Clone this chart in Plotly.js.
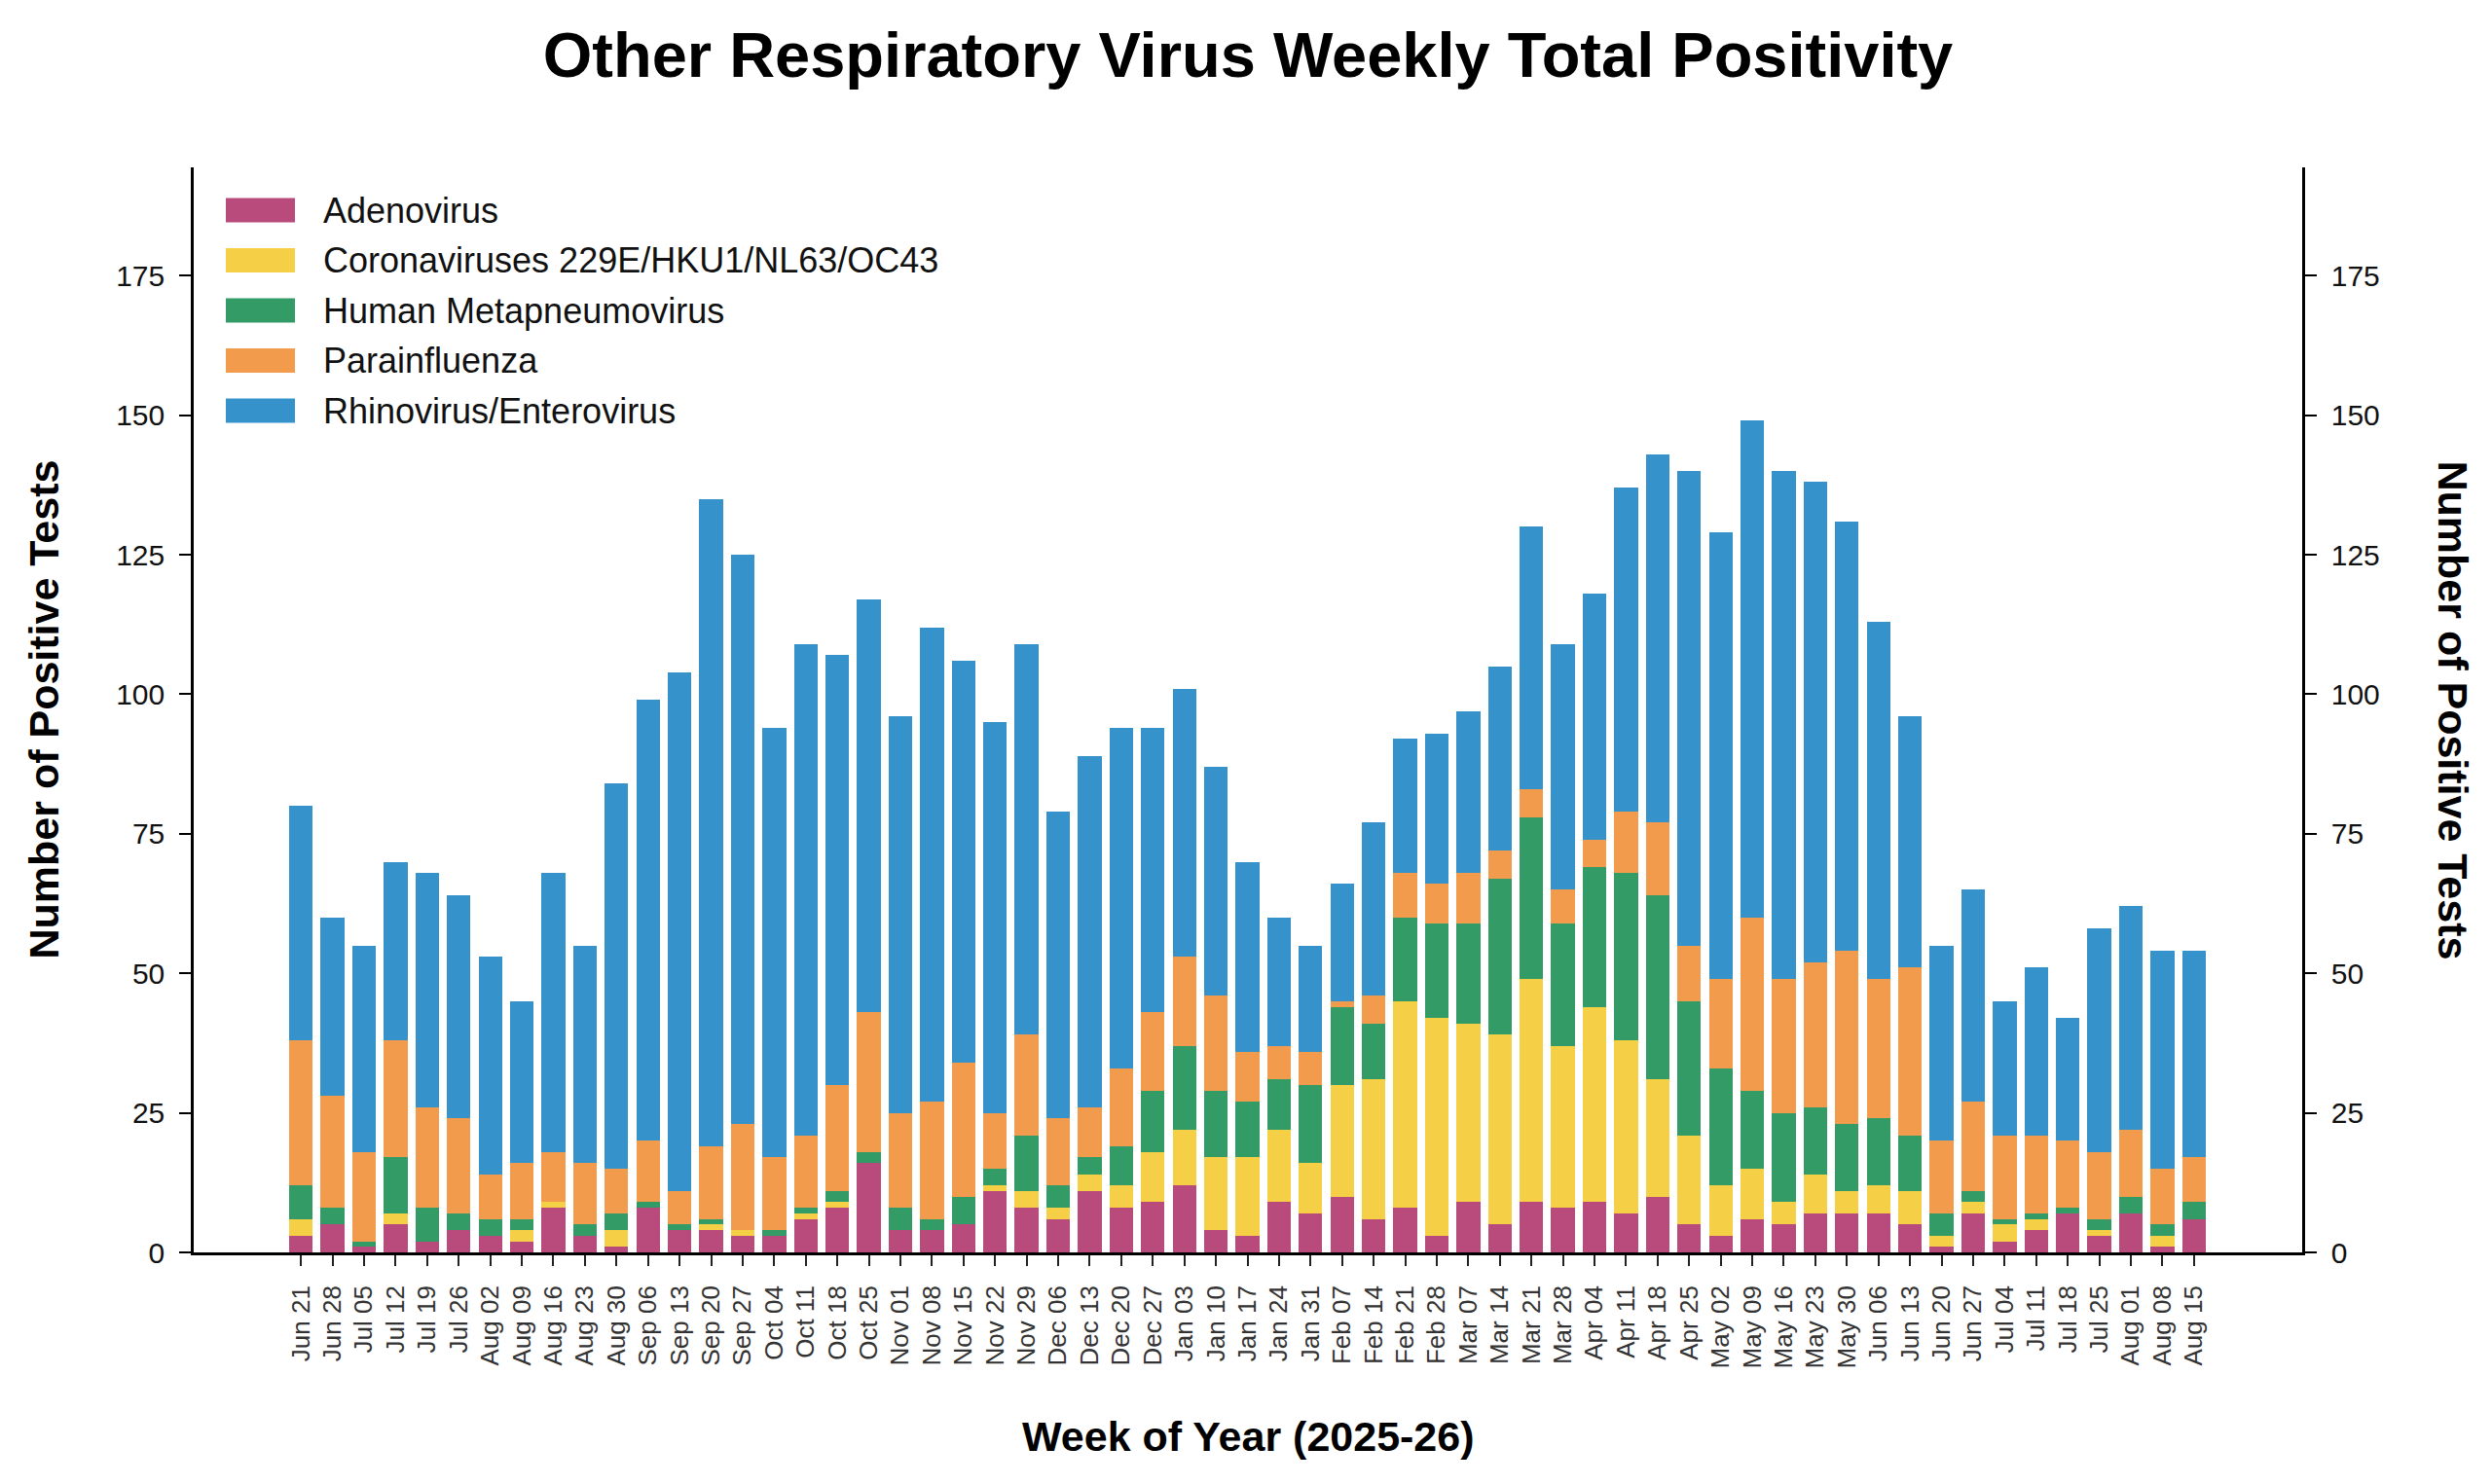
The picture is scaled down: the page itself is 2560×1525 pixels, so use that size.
<!DOCTYPE html>
<html>
<head>
<meta charset="utf-8">
<script src="https://cdn.plot.ly/plotly-3.0.1.min.js"></script>
<style>
  html, body { margin: 0; padding: 0; background: #ffffff; }
  #chart { width: 2560px; height: 1525px; }
</style>
</head>
<body>
<div id="chart"></div>
<script>
// ------------------------------------------------------------
// Other respiratory virus weekly positives (stacked bars)
// ------------------------------------------------------------

const weeks = [
  'Jun 21', 'Jun 28', 'Jul 05', 'Jul 12', 'Jul 19', 'Jul 26', 'Aug 02', 'Aug 09',
  'Aug 16', 'Aug 23', 'Aug 30', 'Sep 06', 'Sep 13', 'Sep 20', 'Sep 27', 'Oct 04',
  'Oct 11', 'Oct 18', 'Oct 25', 'Nov 01', 'Nov 08', 'Nov 15', 'Nov 22', 'Nov 29',
  'Dec 06', 'Dec 13', 'Dec 20', 'Dec 27', 'Jan 03', 'Jan 10', 'Jan 17', 'Jan 24',
  'Jan 31', 'Feb 07', 'Feb 14', 'Feb 21', 'Feb 28', 'Mar 07', 'Mar 14', 'Mar 21',
  'Mar 28', 'Apr 04', 'Apr 11', 'Apr 18', 'Apr 25', 'May 02', 'May 09', 'May 16',
  'May 23', 'May 30', 'Jun 06', 'Jun 13', 'Jun 20', 'Jun 27', 'Jul 04', 'Jul 11',
  'Jul 18', 'Jul 25', 'Aug 01', 'Aug 08', 'Aug 15'
];

const adenovirus = [
  3, 5, 1, 5, 2, 4, 3, 2, 8, 3, 1, 8, 4, 4, 3, 3, 6, 8, 16, 4, 4, 5, 11, 8,
  6, 11, 8, 9, 12, 4, 3, 9, 7, 10, 6, 8, 3, 9, 5, 9, 8, 9, 7, 10, 5, 3, 6, 5,
  7, 7, 7, 5, 1, 7, 2, 4, 7, 3, 7, 1, 6
];
const coronavirus = [
  3, 0, 0, 2, 0, 0, 0, 2, 1, 0, 3, 0, 0, 1, 1, 0, 1, 1, 0, 0, 0, 0, 1, 3,
  2, 3, 4, 9, 10, 13, 14, 13, 9, 20, 25, 37, 39, 32, 34, 40, 29, 35, 31, 21, 16, 9, 9, 4,
  7, 4, 5, 6, 2, 2, 3, 2, 0, 1, 0, 2, 0
];
const metapneumovirus = [
  6, 3, 1, 10, 6, 3, 3, 2, 0, 2, 3, 1, 1, 1, 0, 1, 1, 2, 2, 4, 2, 5, 3, 10,
  4, 3, 7, 11, 15, 12, 10, 9, 14, 14, 10, 15, 17, 18, 28, 29, 22, 25, 30, 33, 24, 21, 14, 16,
  12, 12, 12, 10, 4, 2, 1, 1, 1, 2, 3, 2, 3
];
const parainfluenza = [
  26, 20, 16, 21, 18, 17, 8, 10, 9, 11, 8, 11, 6, 13, 19, 13, 13, 19, 25, 17, 21, 24, 10, 18,
  12, 9, 14, 14, 16, 17, 9, 6, 6, 1, 5, 8, 7, 9, 5, 5, 6, 5, 11, 13, 10, 16, 31, 24,
  26, 31, 25, 30, 13, 16, 15, 14, 12, 12, 12, 10, 8
];
const rhinovirus = [
  42, 32, 37, 32, 42, 40, 39, 29, 50, 39, 69, 79, 93, 116, 102, 77, 88, 77, 74, 71, 85, 72, 70, 70,
  55, 63, 61, 51, 48, 41, 34, 23, 19, 21, 31, 24, 27, 29, 33, 47, 44, 44, 58, 66, 85, 80, 89, 91,
  86, 77, 64, 45, 35, 38, 24, 30, 22, 40, 40, 39, 37
];

const seriesNames = [
  'Adenovirus',
  'Coronaviruses 229E/HKU1/NL63/OC43',
  'Human Metapneumovirus',
  'Parainfluenza',
  'Rhinovirus/Enterovirus'
];
const seriesValues = [adenovirus, coronavirus, metapneumovirus, parainfluenza, rhinovirus];
const seriesColors = ['#b84b7b', '#f5cf45', '#339b66', '#f39b4d', '#3592cb'];

const yTicks = [0, 25, 50, 75, 100, 125, 150, 175];

// ---- geometry (pixels on the 2560x1525 canvas) ----
const W = 2560, H = 1525;
const PLOT = { left: 199, right: 2365, top: 172, bottom: 1287 };
const FONT = 'Liberation Sans, Arial, Helvetica, sans-serif';
const Y_MAX = 194.4;

function px2x(px) { return (px - PLOT.left) / (PLOT.right - PLOT.left); }
function px2y(py) { return (PLOT.bottom - py) / (PLOT.bottom - PLOT.top); }

const traces = seriesNames.map((name, i) => ({
  type: 'bar',
  x: weeks,
  y: seriesValues[i],
  name: name,
  marker: { color: seriesColors[i], line: { width: 0 } },
  hovertemplate: '%{x}: %{y}<extra>' + name + '</extra>'
}));

// custom legend: wide swatches like the original
const shapes = [];
const annotations = [];
const legendRows = [216, 267.5, 319, 370.5, 422];
seriesNames.forEach((name, i) => {
  const cy = legendRows[i];
  shapes.push({
    type: 'rect', xref: 'paper', yref: 'paper',
    x0: px2x(232), x1: px2x(303),
    y0: px2y(cy + 12.5), y1: px2y(cy - 12.5),
    fillcolor: seriesColors[i], line: { width: 0 }
  });
  annotations.push({
    xref: 'paper', yref: 'paper',
    x: px2x(330), y: px2y(cy),
    xanchor: 'left', yanchor: 'middle',
    text: name, showarrow: false,
    font: { family: FONT, size: 36, color: '#111111' }
  });
});

// axis titles
const axisTitleFont = { family: FONT, size: 43, color: '#000000', weight: 'bold' };
annotations.push({
  xref: 'paper', yref: 'paper', x: px2x(44), y: 0.5,
  text: 'Number of Positive Tests', textangle: -90, showarrow: false,
  xanchor: 'center', yanchor: 'middle', font: axisTitleFont
});
annotations.push({
  xref: 'paper', yref: 'paper', x: px2x(2520), y: 0.5,
  text: 'Number of Positive Tests', textangle: 90, showarrow: false,
  xanchor: 'center', yanchor: 'middle', font: axisTitleFont
});
annotations.push({
  xref: 'paper', yref: 'paper', x: 0.5, y: px2y(1476),
  text: 'Week of Year (2025-26)', showarrow: false,
  xanchor: 'center', yanchor: 'middle', font: axisTitleFont
});

const yAxisCommon = {
  range: [0, Y_MAX],
  tickmode: 'array',
  tickvals: yTicks,
  ticktext: yTicks.map(String),
  showgrid: false,
  zeroline: false,
  showline: true,
  linecolor: '#000000',
  linewidth: 2.5,
  ticks: 'outside',
  ticklen: 12,
  tickwidth: 2,
  tickcolor: '#000000',
  ticklabelstandoff: 9,
  tickfont: { family: FONT, size: 30, color: '#111111' },
  fixedrange: true
};

const layout = {
  width: W,
  height: H,
  paper_bgcolor: '#ffffff',
  plot_bgcolor: '#ffffff',
  margin: { l: PLOT.left, r: W - PLOT.right, t: PLOT.top, b: H - PLOT.bottom, pad: 0 },
  barmode: 'stack',
  bargap: 0.25,
  showlegend: false,
  title: {
    text: 'Other Respiratory Virus Weekly Total Positivity',
    x: 0.5, xref: 'paper',
    y: 1 - 56 / H, yref: 'container', yanchor: 'middle',
    font: { family: FONT, size: 65, color: '#000000', weight: 'bold' }
  },
  xaxis: {
    type: 'category',
    range: [-3.4, 63.43],
    showgrid: false,
    zeroline: false,
    showline: true,
    linecolor: '#000000',
    linewidth: 2.5,
    ticks: 'outside',
    ticklen: 11,
    tickwidth: 2,
    tickcolor: '#222222',
    tickangle: -90,
    ticklabelstandoff: 10,
    tickfont: { family: FONT, size: 26, color: '#333333' },
    automargin: false,
    fixedrange: true
  },
  yaxis: Object.assign({}, yAxisCommon, { side: 'left', automargin: false }),
  yaxis2: Object.assign({}, yAxisCommon, {
    side: 'right', overlaying: 'y', anchor: 'x', automargin: false
  }),
  shapes: shapes,
  annotations: annotations
};

// invisible helper so the right-hand axis gets drawn
traces.push({
  type: 'scatter', x: [weeks[0]], y: [0], yaxis: 'y2',
  mode: 'markers', marker: { opacity: 0 }, hoverinfo: 'skip', showlegend: false
});

Plotly.newPlot('chart', traces, layout, { displayModeBar: false, responsive: false });
</script>
</body>
</html>
